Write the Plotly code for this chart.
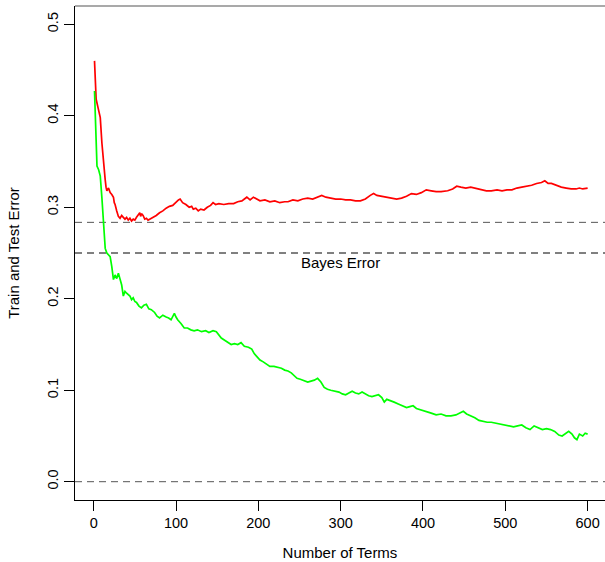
import plotly.graph_objects as go

# Test error (red)
test_terms = [1, 2, 3, 5, 7, 8, 10, 12, 14, 15, 16, 18, 20, 22, 24, 25, 26, 28, 30, 32,
              34, 36, 38, 40, 42, 44, 46, 48, 50, 52, 54, 56, 57, 58, 60, 62, 64, 66, 68, 72,
              76, 80, 84, 88, 92, 96, 100, 103, 105, 108, 112, 116, 119, 121, 124, 127, 130, 134, 138, 142,
              145, 148, 152, 158, 164, 170, 175, 180, 186, 190, 194, 198, 202, 208, 214, 220, 226, 232, 236, 242,
              248, 254, 260, 266, 272, 277, 282, 288, 294, 300, 306, 312, 318, 324, 330, 336, 340, 344, 350, 356,
              362, 368, 374, 380, 386, 392, 398, 404, 410, 416, 422, 430, 436, 441, 446, 452, 458, 463, 470, 477,
              483, 490, 496, 502, 508, 514, 520, 526, 532, 538, 544, 548, 552, 556, 562, 568, 574, 580, 586, 590,
              594, 600]
test_error = [0.460, 0.440, 0.418, 0.410, 0.402, 0.398, 0.370, 0.345, 0.330, 0.322, 0.318, 0.321, 0.316, 0.314, 0.311, 0.305, 0.303, 0.296, 0.290, 0.288,
              0.291, 0.289, 0.287, 0.289, 0.286, 0.288, 0.285, 0.287, 0.286, 0.289, 0.292, 0.294, 0.290, 0.293, 0.291, 0.287, 0.288, 0.286, 0.287, 0.289,
              0.291, 0.294, 0.296, 0.299, 0.301, 0.302, 0.306, 0.308, 0.309, 0.305, 0.303, 0.300, 0.301, 0.298, 0.299, 0.296, 0.298, 0.297, 0.300, 0.302,
              0.305, 0.303, 0.304, 0.303, 0.304, 0.304, 0.306, 0.307, 0.311, 0.308, 0.311, 0.309, 0.307, 0.308, 0.306, 0.307, 0.305, 0.306, 0.306, 0.308,
              0.307, 0.309, 0.310, 0.309, 0.311, 0.313, 0.311, 0.310, 0.309, 0.309, 0.308, 0.308, 0.307, 0.307, 0.309, 0.313, 0.315, 0.313, 0.312, 0.311,
              0.310, 0.309, 0.310, 0.312, 0.315, 0.314, 0.316, 0.319, 0.318, 0.317, 0.317, 0.318, 0.320, 0.323, 0.322, 0.321, 0.322, 0.321, 0.320, 0.318,
              0.318, 0.319, 0.318, 0.319, 0.319, 0.321, 0.322, 0.323, 0.324, 0.326, 0.327, 0.329, 0.326, 0.326, 0.324, 0.322, 0.321, 0.320, 0.320, 0.321,
              0.320, 0.321]

# Training error (green)
train_terms = [1, 2, 3, 4, 6, 8, 10, 12, 14, 16, 18, 20, 22, 24, 26, 28, 30, 32, 34, 36,
               38, 40, 42, 44, 46, 48, 50, 52, 55, 58, 61, 64, 67, 70, 74, 77, 80, 84, 88, 91,
               94, 98, 100, 102, 106, 110, 114, 118, 122, 126, 131, 136, 140, 145, 149, 152, 155, 160, 164, 167,
               171, 175, 179, 183, 188, 192, 195, 198, 202, 206, 210, 214, 219, 224, 228, 232, 236, 240, 244, 247,
               251, 256, 260, 264, 268, 272, 276, 280, 284, 288, 293, 298, 302, 306, 310, 314, 318, 322, 326, 330,
               334, 338, 342, 346, 350, 353, 356, 360, 365, 370, 375, 380, 384, 388, 392, 396, 400, 405, 410, 416,
               422, 428, 434, 440, 445, 449, 453, 458, 463, 468, 473, 478, 483, 489, 495, 500, 505, 510, 515, 520,
               525, 530, 535, 540, 545, 550, 555, 560, 565, 569, 573, 577, 581, 584, 587, 590, 594, 597, 600]
train_error = [0.427, 0.400, 0.360, 0.345, 0.341, 0.334, 0.310, 0.285, 0.255, 0.250, 0.248, 0.246, 0.235, 0.221, 0.226, 0.222, 0.228, 0.222, 0.215, 0.203,
               0.208, 0.206, 0.204, 0.203, 0.199, 0.201, 0.197, 0.196, 0.192, 0.190, 0.193, 0.194, 0.189, 0.188, 0.185, 0.181, 0.179, 0.182, 0.180, 0.179,
               0.177, 0.184, 0.180, 0.177, 0.173, 0.168, 0.168, 0.166, 0.165, 0.166, 0.164, 0.165, 0.163, 0.165, 0.164, 0.160, 0.157, 0.154, 0.152, 0.150,
               0.151, 0.150, 0.152, 0.148, 0.147, 0.145, 0.140, 0.137, 0.133, 0.131, 0.128, 0.126, 0.126, 0.125, 0.124, 0.122, 0.121, 0.119, 0.116, 0.113,
               0.112, 0.110, 0.109, 0.110, 0.111, 0.113, 0.109, 0.103, 0.101, 0.100, 0.099, 0.098, 0.096, 0.095, 0.097, 0.099, 0.097, 0.096, 0.098, 0.096,
               0.094, 0.093, 0.094, 0.095, 0.092, 0.087, 0.090, 0.089, 0.087, 0.085, 0.083, 0.081, 0.082, 0.083, 0.080, 0.079, 0.078, 0.076, 0.075, 0.073,
               0.074, 0.072, 0.072, 0.073, 0.075, 0.077, 0.074, 0.072, 0.070, 0.067, 0.066, 0.065, 0.065, 0.064, 0.063, 0.062, 0.061, 0.060, 0.061, 0.062,
               0.059, 0.057, 0.061, 0.059, 0.057, 0.058, 0.057, 0.055, 0.051, 0.050, 0.053, 0.055, 0.052, 0.048, 0.046, 0.052, 0.050, 0.053, 0.052]

# Reference levels
ref_levels = [0.0, 0.25, 0.2835]
ref_colors = ["#555555", "#000000", "#555555"]
bayes_label = "Bayes Error"
bayes_label_pos = (300, 0.2395)

x_ticks = [0, 100, 200, 300, 400, 500, 600]
y_ticks = [0.0, 0.1, 0.2, 0.3, 0.4, 0.5]

FONT = "Liberation Sans, Arial, Helvetica, sans-serif"

fig = go.Figure()
fig.add_trace(go.Scatter(x=test_terms, y=test_error, mode="lines",
                         line=dict(color="#FF0000", width=1.7), showlegend=False))
fig.add_trace(go.Scatter(x=train_terms, y=train_error, mode="lines",
                         line=dict(color="#00FF00", width=1.7), showlegend=False))

for lvl, col in zip(ref_levels, ref_colors):
    fig.add_shape(type="line", xref="paper", x0=0, x1=1, yref="y", y0=lvl, y1=lvl,
                  line=dict(color=col, width=1, dash="7px,5px"), layer="below")

# top border of the box
fig.add_shape(type="line", xref="paper", yref="paper", x0=0, x1=1, y0=1, y1=1,
              line=dict(color="#555555", width=1.2))

fig.add_annotation(x=bayes_label_pos[0], y=bayes_label_pos[1], text=bayes_label,
                   showarrow=False, font=dict(family=FONT, size=15, color="black"))

fig.update_layout(
    width=605, height=562,
    margin=dict(l=75, r=0, t=6, b=62),
    paper_bgcolor="white", plot_bgcolor="white",
    font=dict(family=FONT, size=14, color="black"),
    xaxis=dict(range=[-22.7, 621.1], tickvals=x_ticks, ticks="outside", ticklen=10,
               tickcolor="black", showline=True, linecolor="black", linewidth=1,
               showgrid=False, zeroline=False, mirror=False,
               tickfont=dict(size=14.5),
               title=dict(text="Number of Terms", standoff=17, font=dict(size=15))),
    yaxis=dict(range=[-0.02, 0.52], tickvals=y_ticks, tickformat=".1f", ticks="outside",
               ticklen=10, tickcolor="black", showline=True, linecolor="black", linewidth=1,
               showgrid=False, zeroline=False, mirror=False, tickangle=-90,
               tickfont=dict(size=14.5),
               title=dict(text="Train and Test Error", standoff=21, font=dict(size=15))),
)

fig.write_html("out.html")
